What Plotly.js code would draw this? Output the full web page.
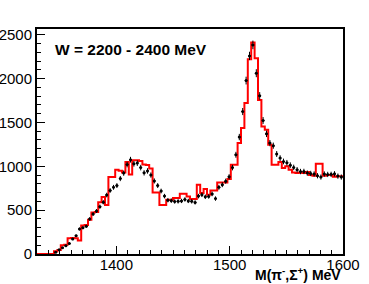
<!DOCTYPE html>
<html>
<head>
<meta charset="utf-8">
<script src="https://cdn.plot.ly/plotly-3.0.1.min.js"></script>
<style>
  html, body { margin: 0; padding: 0; background: #fff; }
  #chart { width: 369px; height: 284px; }
</style>
</head>
<body>
<div id="chart"></div>
<script>
// Invariant-mass spectrum, 3 MeV bins starting at 1330 MeV
const massLow = 1330;
const binWidth = 3;

// Fit / simulation histogram (red outline), one value per bin
const fitCounts = [
  0, 0, 0, 0, 0, 30, 45, 100, 105, 180,
  182, 180, 155, 326, 330, 390, 474, 480, 590, 650,
  560, 877, 877, 960, 950, 930, 1050, 905, 1070, 1070,
  1060, 1020, 1015, 975, 700, 700, 560, 560, 618, 618,
  638, 638, 687, 687, 656, 626, 626, 789, 695, 740,
  675, 725, 725, 815, 815, 815, 854, 1017, 1017, 1264,
  1435, 1720, 2221, 2410, 2232, 1757, 1453, 1416, 1245, 1017,
  1017, 1050, 979, 1000, 960, 930, 922, 930, 922, 935,
  900, 892, 1030, 1030, 892, 900, 900, 880, 885, 885
];

// Measured yields (black points), one value per bin; empty below threshold
const dataCounts = [
  null, null, null, null, null, 20, 49, 72, 95, 120,
  171, 208, 285, 300, 315, 400, 455, 490, 540, 590,
  672, 724, 760, 780, 860, 922, 1020, 1075, 1028, 1036,
  985, 925, 947, 900, 833, 780, 718, 660, 614, 608,
  598, 600, 605, 622, 605, 600, 588, 660, 675, 652,
  656, 685, 632, 760, 790, 830, 880, 985, 1131, 1333,
  1624, 1977, 2258, 2384, 2061, 1803, 1522, 1370, 1264, 1235,
  1140, 1093, 1055, 1040, 1013, 987, 960, 940, 941, 922,
  918, 912, 892, 877, 912, 907, 908, 914, 888, 877
];

const yTickVals = [0, 500, 1000, 1500, 2000, 2500];
const xTickVals = [1400, 1500, 1600];

// Bin edges and centres from the binning
const nBins = fitCounts.length;
const edges = [];
for (let i = 0; i <= nBins; i++) edges.push(massLow + i * binWidth);
const centres = edges.slice(0, nBins).map(e => e + binWidth / 2);

// Step outline: each bin value starts at its left edge, last value closes at final edge
const stepX = edges.slice();
const stepY = fitCounts.concat([fitCounts[nBins - 1]]);

const fontFam = '"Liberation Sans", Arial, Helvetica, sans-serif';

const histTrace = {
  type: 'scatter',
  mode: 'lines',
  x: stepX,
  y: stepY,
  line: { color: '#ff0000', width: 2, shape: 'hv' },
  hoverinfo: 'skip',
  showlegend: false
};

const dataTrace = {
  type: 'scatter',
  mode: 'markers',
  x: centres,
  y: dataCounts,
  marker: { color: '#000', size: 3 },
  error_y: { type: 'sqrt', color: '#000', thickness: 1, width: 0 },
  error_x: { type: 'constant', value: 1.2, color: '#000', thickness: 1, width: 0 },
  showlegend: false
};

const axisCommon = {
  showline: true,
  linecolor: '#000',
  linewidth: 2,
  mirror: true,
  ticks: 'inside',
  ticklen: 8,
  tickwidth: 1,
  tickcolor: '#000',
  showgrid: false,
  zeroline: false,
  automargin: false,
  tickfont: { family: fontFam, size: 15, color: '#000' }
};

const layout = {
  width: 369,
  height: 284,
  margin: { l: 37, r: 26, t: 29, b: 30, pad: 0 },
  paper_bgcolor: '#fff',
  plot_bgcolor: '#fff',
  showlegend: false,
  title: {
    text: '<b>W = 2200 - 2400 MeV</b>',
    font: { family: fontFam, size: 15.5, color: '#000' },
    xref: 'container', yref: 'container',
    x: 55 / 369, xanchor: 'left',
    y: 1 - 50 / 284, yanchor: 'middle'
  },
  xaxis: Object.assign({}, axisCommon, {
    range: [1330, 1600],
    tickmode: 'array',
    tickvals: xTickVals,
    ticktext: xTickVals.map(String),
    ticklabelstandoff: -4,
    minor: { dtick: 10, tick0: 1400, ticks: 'inside', ticklen: 4, tickwidth: 1, tickcolor: '#000', showgrid: false }
  }),
  yaxis: Object.assign({}, axisCommon, {
    range: [0, 2565],
    tickmode: 'array',
    tickvals: yTickVals,
    ticktext: yTickVals.map(String),
    minor: { dtick: 100, tick0: 0, ticks: 'inside', ticklen: 4, tickwidth: 1, tickcolor: '#000', showgrid: false }
  }),
  annotations: [{
    text: '<b>M(π<sup>-</sup>,Σ<sup>+</sup>) MeV</b>',
    xref: 'paper', yref: 'paper',
    x: 1, xanchor: 'right',
    y: -0.088, yanchor: 'middle',
    showarrow: false,
    font: { family: fontFam, size: 14, color: '#000' }
  }]
};

Plotly.newPlot('chart', [histTrace, dataTrace], layout, { staticPlot: true, displayModeBar: false });
</script>
</body>
</html>
